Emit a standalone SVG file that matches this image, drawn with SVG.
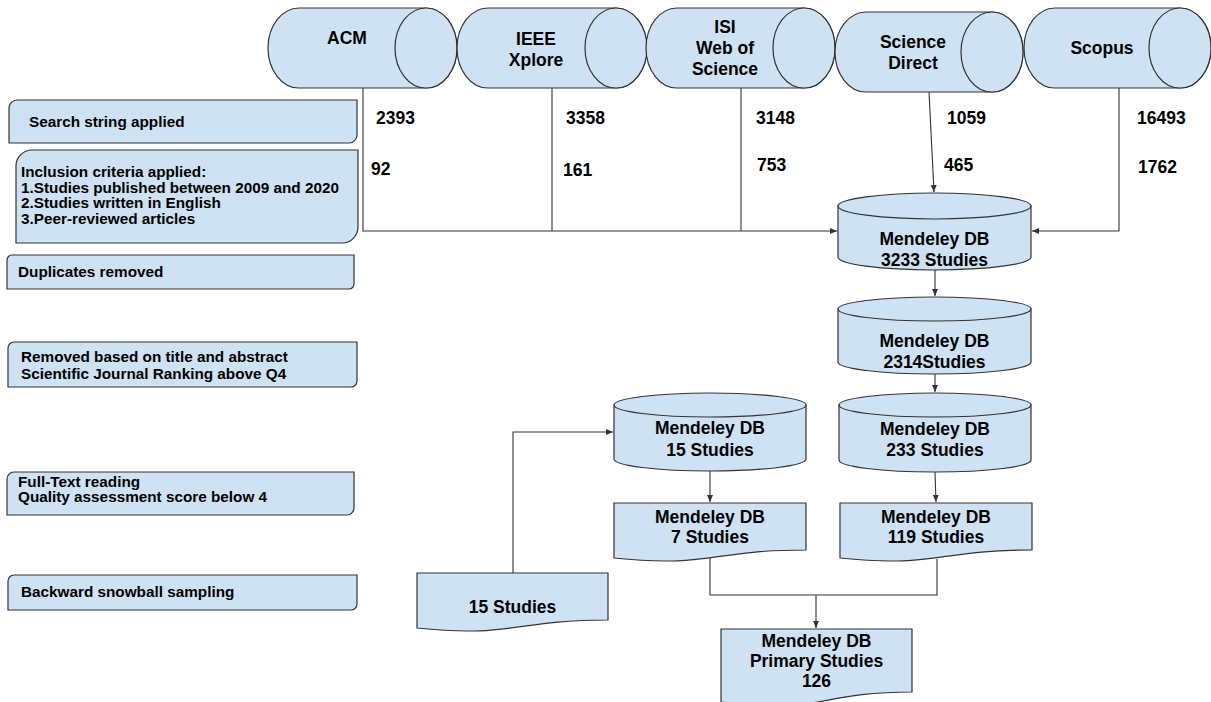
<svg xmlns="http://www.w3.org/2000/svg" width="1211" height="702" viewBox="0 0 1211 702">
<style>
.s{fill:#cfe2f3;stroke:#333;stroke-width:1.2}
.t{font-family:"Liberation Sans",Arial,sans-serif;font-weight:bold;font-size:17.5px;fill:#000}
.c{text-anchor:middle}
.l{font-family:"Liberation Sans",Arial,sans-serif;font-weight:bold;font-size:15.3px;fill:#000}
.e{fill:none;stroke:#333;stroke-width:1.1}
</style>
<defs>
<marker id="ar" markerUnits="userSpaceOnUse" markerWidth="8" markerHeight="8" viewBox="0 0 8 8" refX="7" refY="4" orient="auto">
<path d="M0,1 L7,4 L0,7 Z" fill="#333"/>
</marker>
</defs>

<g id="acm">
<path class="s" d="M299,8 H426 A31,40 0 0 1 426,88 H299 A31,40 0 0 1 299,8 Z"/>
<ellipse class="s" cx="426" cy="48" rx="31" ry="40"/>
<text class="t c" x="347" y="44">ACM</text>
</g>
<g id="ieee">
<path class="s" d="M488,8 H616 A31,40 0 0 1 616,88 H488 A31,40 0 0 1 488,8 Z"/>
<ellipse class="s" cx="616" cy="48" rx="31" ry="40"/>
<text class="t c" x="536" y="45">IEEE</text>
<text class="t c" x="536" y="66">Xplore</text>
</g>
<g id="isi">
<path class="s" d="M677,8 H804 A31,40 0 0 1 804,88 H677 A31,40 0 0 1 677,8 Z"/>
<ellipse class="s" cx="804" cy="48" rx="31" ry="40"/>
<text class="t c" x="725" y="33">ISI</text>
<text class="t c" x="725" y="54">Web of</text>
<text class="t c" x="725" y="75">Science</text>
</g>
<g id="sciencedirect">
<path class="s" d="M866,12 H992 A31,40 0 0 1 992,92 H866 A31,40 0 0 1 866,12 Z"/>
<ellipse class="s" cx="992" cy="52" rx="31" ry="40"/>
<text class="t c" x="913" y="48">Science</text>
<text class="t c" x="913" y="69">Direct</text>
</g>
<g id="scopus">
<path class="s" d="M1055,8 H1180 A31,40 0 0 1 1180,88 H1055 A31,40 0 0 1 1055,8 Z"/>
<ellipse class="s" cx="1180" cy="48" rx="31" ry="40"/>
<text class="t c" x="1102" y="54">Scopus</text>
</g>

<g id="search">
<path class="s" d="M17,100 H357 V135 A8,8 0 0 1 349,143 H9 V108 A8,8 0 0 1 17,100 Z"/>
<text class="l" x="29" y="127">Search string applied</text>
</g>
<g id="inclusion">
<path class="s" d="M32,150 H358 V227 A16,16 0 0 1 342,243 H16 V166 A16,16 0 0 1 32,150 Z"/>
<text class="l" x="21" y="177">Inclusion criteria applied:</text>
<text class="l" x="21" y="192.5">1.Studies published between 2009 and 2020</text>
<text class="l" x="21" y="208">2.Studies written in English</text>
<text class="l" x="21" y="223.5">3.Peer-reviewed articles</text>
</g>
<g id="duplicates">
<path class="s" d="M12,255 H354 V284 A5,5 0 0 1 349,289 H7 V260 A5,5 0 0 1 12,255 Z"/>
<text class="l" x="18" y="277">Duplicates removed</text>
</g>
<g id="removed">
<path class="s" d="M14,342 H357 V381 A6,6 0 0 1 351,387 H8 V348 A6,6 0 0 1 14,342 Z"/>
<text class="l" x="21" y="362">Removed based on title and abstract</text>
<text class="l" x="21" y="379">Scientific Journal Ranking above Q4</text>
</g>
<g id="fulltext">
<path class="s" d="M14,472 H354 V508 A7,7 0 0 1 347,515 H7 V479 A7,7 0 0 1 14,472 Z"/>
<text class="l" x="18" y="487">Full-Text reading</text>
<text class="l" x="18" y="502">Quality assessment score below 4</text>
</g>
<g id="snowball">
<path class="s" d="M14,575 H357 V604 A6,6 0 0 1 351,610 H8 V581 A6,6 0 0 1 14,575 Z"/>
<text class="l" x="21" y="597">Backward snowball sampling</text>
</g>

<g id="numbers">
<text class="t" x="376" y="124">2393</text>
<text class="t" x="371" y="175">92</text>
<text class="t" x="566" y="124">3358</text>
<text class="t" x="563" y="176">161</text>
<text class="t" x="756" y="124">3148</text>
<text class="t" x="757" y="171">753</text>
<text class="t" x="947" y="124">1059</text>
<text class="t" x="944" y="171">465</text>
<text class="t" x="1137" y="124">16493</text>
<text class="t" x="1138" y="173">1762</text>
</g>

<g id="db3233">
<path class="s" d="M838,206 V257 A96.5,13 0 0 0 1031,257 V206 Z"/>
<ellipse class="s" cx="934.5" cy="206" rx="96.5" ry="13"/>
<text class="t c" x="934.5" y="245">Mendeley DB</text>
<text class="t c" x="934.5" y="266">3233 Studies</text>
</g>
<g id="db2314">
<path class="s" d="M838,309 V362 A96.5,12 0 0 0 1031,362 V309 Z"/>
<ellipse class="s" cx="934.5" cy="309" rx="96.5" ry="12"/>
<text class="t c" x="934.5" y="347">Mendeley DB</text>
<text class="t c" x="934.5" y="368">2314Studies</text>
</g>
<g id="db233">
<path class="s" d="M839,405 V460 A96,12 0 0 0 1031,460 V405 Z"/>
<ellipse class="s" cx="935" cy="405" rx="96" ry="12"/>
<text class="t c" x="935" y="435">Mendeley DB</text>
<text class="t c" x="935" y="456">233 Studies</text>
</g>
<g id="db15">
<path class="s" d="M614,405 V459 A96,12 0 0 0 806,459 V405 Z"/>
<ellipse class="s" cx="710" cy="405" rx="96" ry="12"/>
<text class="t c" x="710" y="434">Mendeley DB</text>
<text class="t c" x="710" y="456">15 Studies</text>
</g>
<g id="doc7">
<path class="s" d="M614,503 H806 V550 C710,550 710,568 614,558 Z"/>
<text class="t c" x="710" y="523">Mendeley DB</text>
<text class="t c" x="710" y="543">7 Studies</text>
</g>
<g id="doc119">
<path class="s" d="M840,503 H1032 V550 C936,550 936,568 840,558 Z"/>
<text class="t c" x="936" y="523">Mendeley DB</text>
<text class="t c" x="936" y="543">119 Studies</text>
</g>
<g id="doc15">
<path class="s" d="M417,573 H608 V620 C512.5,620 512.5,638 417,628 Z"/>
<text class="t c" x="512.5" y="613">15 Studies</text>
</g>
<g id="primary">
<path class="s" d="M721,629 H912 V692 C816.5,692 816.5,716 721,702 Z"/>
<text class="t c" x="816.5" y="647">Mendeley DB</text>
<text class="t c" x="816.5" y="667">Primary Studies</text>
<text class="t c" x="816.5" y="687">126</text>
</g>

<g id="connectors">
<path class="e" d="M363,88 V231 H837" marker-end="url(#ar)"/>
<path class="e" d="M552,88 V231"/>
<path class="e" d="M741,88 V231"/>
<path class="e" d="M929,92 L934,192" marker-end="url(#ar)"/>
<path class="e" d="M1119,88 V231 H1032" marker-end="url(#ar)"/>
<path class="e" d="M935,270 V296" marker-end="url(#ar)"/>
<path class="e" d="M935,374 V392" marker-end="url(#ar)"/>
<path class="e" d="M935,472 L936,502" marker-end="url(#ar)"/>
<path class="e" d="M710,471 V502" marker-end="url(#ar)"/>
<path class="e" d="M513,573 V432 H613" marker-end="url(#ar)"/>
<path class="e" d="M710,558 V595 H937 V559"/>
<path class="e" d="M816,595 V628" marker-end="url(#ar)"/>
</g>
</svg>
